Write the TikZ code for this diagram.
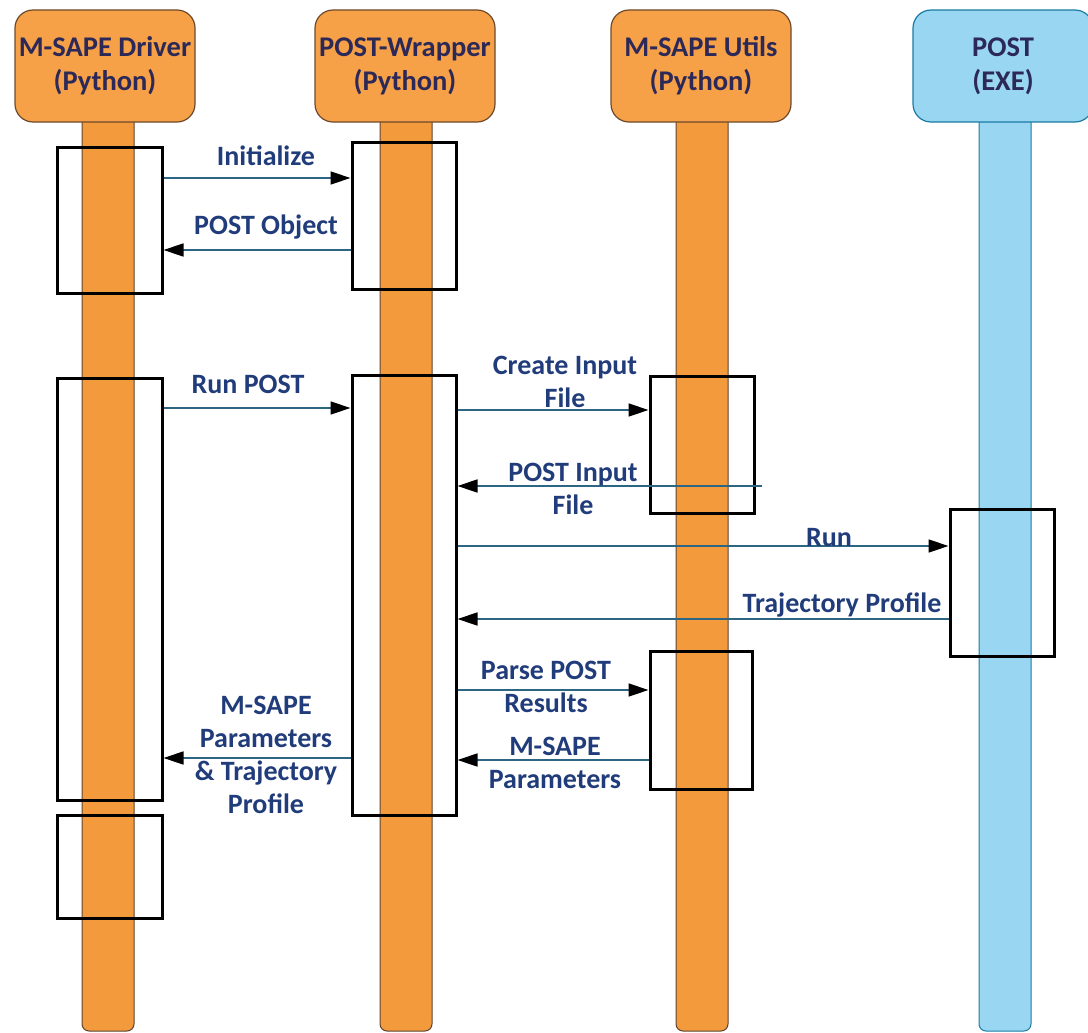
\documentclass[tikz,border=0pt]{standalone}
\usepackage{fontspec}
\setmainfont{Carlito}
\usetikzlibrary{arrows.meta}
\definecolor{hdrorange}{HTML}{F6A047}
\definecolor{hdrorangeline}{HTML}{6E4A2C}
\definecolor{barorange}{HTML}{F39A3C}
\definecolor{barorangeline}{HTML}{5E4430}
\definecolor{hdrblue}{HTML}{98D6F1}
\definecolor{hdrblueline}{HTML}{1B7BA3}
\definecolor{hdrtext}{HTML}{2C2958}
\definecolor{lbltext}{HTML}{213C7A}
\definecolor{msgline}{HTML}{2C6683}
\begin{document}
\begin{tikzpicture}[x=1pt,y=-1pt,
  hdr/.style={rounded corners=18pt, minimum width=180pt, minimum height=112pt,
    align=center, inner sep=0pt, line width=1.2pt, text=hdrtext,
    font=\fontsize{28.5}{34}\selectfont\bfseries},
  hdrO/.style={hdr, draw=hdrorangeline, fill=hdrorange},
  hdrB/.style={hdr, draw=hdrblueline, fill=hdrblue},
  life/.style={minimum width=52pt, minimum height=919pt, rounded corners=7pt,
    inner sep=0pt, line width=1pt},
  lifeO/.style={life, draw=barorangeline, fill=barorange},
  lifeB/.style={life, draw=hdrblueline, fill=hdrblue},
  act/.style={draw=black, line width=3pt, inner sep=0pt},
  msg/.style={draw=msgline, line width=1.4pt,
    -{Triangle[length=20pt,width=13pt,color=black]}},
  lbl/.style={text=lbltext, align=center, inner sep=1pt,
    font=\fontsize{28}{33}\selectfont\bfseries}]
\useasboundingbox (0,0) rectangle (1088,1033);

% lifelines
\node[lifeO] (drvL) at (108,571.5) {};
\node[lifeO] (wrpL) at (406,571.5) {};
\node[lifeO] (utlL) at (702,571.5) {};
\node[lifeB] (exeL) at (1005,571.5) {};

% participant headers
\node[hdrO] (drv) at (105,66) {M-SAPE Driver\\(Python)};
\node[hdrO] (wrp) at (405,66) {POST-Wrapper\\(Python)};
\node[hdrO] (utl) at (701,66) {M-SAPE Utils\\(Python)};
\node[hdrB] (exe) at (1003,66) {POST\\(EXE)};

% activation bars
\node[act, minimum width=105pt, minimum height=146pt] (drvA1) at (109.5,220) {};
\node[act, minimum width=104pt, minimum height=147pt] (wrpA1) at (404,215.5) {};
\node[act, minimum width=105pt, minimum height=422pt] (drvA2) at (109.5,589) {};
\node[act, minimum width=104pt, minimum height=440pt] (wrpA2) at (404,595) {};
\node[act, minimum width=104pt, minimum height=137pt] (utlA1) at (702,444.5) {};
\node[act, minimum width=104pt, minimum height=147pt] (exeA) at (1002,582.5) {};
\node[act, minimum width=102pt, minimum height=138pt] (utlA2) at (701,720) {};
\node[act, minimum width=105pt, minimum height=103pt] (drvA3) at (109.5,866.5) {};

% messages
\draw[msg] (drvA1.east |- 0,178) -- (wrpA1.west |- 0,178);
\node[lbl] (mInit) at (266,156) {Initialize};

\draw[msg] (wrpA1.west |- 0,250) -- (drvA1.east |- 0,250);
\node[lbl] (mObj) at (266,227) {POST Object};

\draw[msg] (drvA2.east |- 0,408) -- (wrpA2.west |- 0,408);
\node[lbl] (mRunPost) at (248,384) {Run POST};

\draw[msg] (wrpA2.east |- 0,410) -- (utlA1.west |- 0,410);
\node[lbl] (mCreate) at (565,382) {Create Input\\File};

\coordinate (pifStart) at (762,486);
\draw[msg] (pifStart) -- (wrpA2.east |- pifStart);
\node[lbl] (mPif) at (573,489) {POST Input\\File};

\draw[msg] (wrpA2.east |- 0,546) -- (exeA.west |- 0,546);
\node[lbl] (mRun) at (829,538) {Run};

\draw[msg] (exeA.west |- 0,619) -- (wrpA2.east |- 0,619);
\node[lbl] (mTraj) at (842,605) {Trajectory Profile};

\draw[msg] (wrpA2.east |- 0,690) -- (utlA2.west |- 0,690);
\node[lbl] (mParse) at (546,687) {Parse POST\\Results};

\draw[msg] (utlA2.west |- 0,760) -- (wrpA2.east |- 0,760);
\node[lbl] (mPar) at (555,763) {M-SAPE\\Parameters};

\draw[msg] (wrpA2.west |- 0,758) -- (drvA2.east |- 0,758);
\node[lbl] (mRet) at (266,755) {M-SAPE\\Parameters\\\& Trajectory\\Profile};
\end{tikzpicture}
\end{document}
